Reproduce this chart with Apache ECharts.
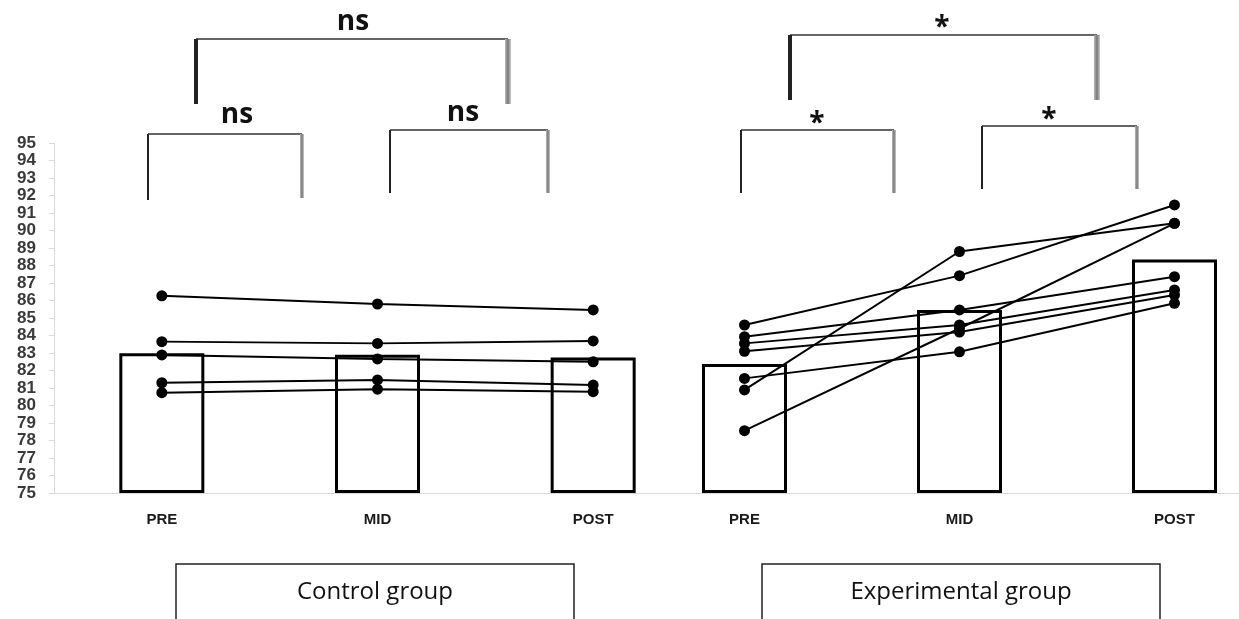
<!DOCTYPE html>
<html>
<head>
<meta charset="utf-8">
<script src="https://cdn.jsdelivr.net/npm/echarts@6/dist/echarts.min.js"></script>
<style>
  html, body { margin: 0; padding: 0; background: #fff; }
  #chart { width: 1239px; height: 619px; }
</style>
</head>
<body>
<div id="chart"></div>
<script>
// time points
var categories = ['PRE', 'MID', 'POST'];

// group means (bars)
var controlMeans = [82.98, 82.9, 82.75];
var experimentalMeans = [82.37, 85.46, 88.35];

// individual subjects, PRE / MID / POST
var controlScores = [
  [86.27, 85.8, 85.46],
  [83.65, 83.55, 83.69],
  [82.89, 82.66, 82.5],
  [81.3, 81.46, 81.17],
  [80.73, 80.93, 80.79]
];
var experimentalScores = [
  [80.89, 88.8, 90.41],
  [84.6, 87.42, 91.46],
  [78.56, 84.4, 90.41],
  [83.93, 85.46, 87.36],
  [83.55, 84.6, 86.6],
  [83.1, 84.2, 86.31],
  [81.55, 83.07, 85.84]
];

// y axis range
var yMin = 75, yMax = 95, yStep = 1;

var axisGray = '#d9d9d9';

function xAxisFor(idx) {
  return {
    gridIndex: idx,
    type: 'category',
    data: categories,
    axisLine: { lineStyle: { color: axisGray, width: 1 } },
    axisTick: { length: 5, lineStyle: { color: axisGray } },
    axisLabel: {
      margin: 19,
      color: '#1a1a1a',
      fontFamily: 'Liberation Sans',
      fontWeight: 'bold',
      fontSize: 15
    }
  };
}

function barSeries(idx, data) {
  return {
    type: 'bar',
    xAxisIndex: idx,
    yAxisIndex: idx,
    data: data,
    barWidth: 85,
    clip: false,
    silent: true,
    itemStyle: { color: '#fff', borderColor: '#000', borderWidth: 3 },
    z: 2
  };
}

function subjectSeries(idx, data) {
  return {
    type: 'line',
    xAxisIndex: idx,
    yAxisIndex: idx,
    data: data,
    symbol: 'circle',
    symbolSize: 11,
    clip: false,
    silent: true,
    lineStyle: { color: '#000', width: 2 },
    itemStyle: { color: '#000' },
    z: 5
  };
}

var series = [barSeries(0, controlMeans), barSeries(1, experimentalMeans)];
controlScores.forEach(function (s) { series.push(subjectSeries(0, s)); });
experimentalScores.forEach(function (s) { series.push(subjectSeries(1, s)); });

// significance brackets
function bracket(x1, x2, yTop, yL, yR, thick, label, labelX, labelY) {
  var els = [];
  els.push({ type: 'line', shape: { x1: x1, y1: yTop, x2: x2, y2: yTop },
    style: { stroke: '#333', lineWidth: 1.5 } });
  var w = thick ? 4 : 2;
  els.push({ type: 'rect', shape: { x: x1 - w / 2, y: yTop, width: w, height: yL - yTop },
    style: { fill: '#222' } });
  els.push({ type: 'rect', shape: { x: x2 - (w + 2) / 2, y: yTop, width: w + 2, height: yR - yTop },
    style: { fill: new echarts.graphic.LinearGradient(0, 0, 1, 0, [
      { offset: 0, color: '#bbb' }, { offset: 0.5, color: '#777' }, { offset: 1, color: '#ccc' }
    ]) } });
  els.push({ type: 'text', x: labelX, y: labelY,
    style: { text: label, fill: '#111', font: 'bold 28px "Open Sans"', align: 'center', verticalAlign: 'middle' } });
  return els;
}

var graphics = []
  .concat(bracket(196, 508, 39, 104, 104, true, 'ns', 353, 22))
  .concat(bracket(148, 302, 134, 200, 198, false, 'ns', 237, 115))
  .concat(bracket(390, 548, 130, 193, 193, false, 'ns', 463, 113))
  .concat(bracket(790, 1097, 35, 100, 100, true, '*', 942, 28))
  .concat(bracket(741, 894, 130, 193, 193, false, '*', 817, 124))
  .concat(bracket(982, 1137, 126, 189, 189, false, '*', 1049, 120));

// group label boxes
function groupBox(x, w, text) {
  return [
    { type: 'rect', shape: { x: x, y: 564, width: w, height: 70 },
      style: { fill: '#fff', stroke: '#222', lineWidth: 1.5 } },
    { type: 'text', x: x + w / 2, y: 592,
      style: { text: text, fill: '#111', font: '24px "Open Sans"', align: 'center', verticalAlign: 'middle' } }
  ];
}
graphics = graphics.concat(groupBox(176, 398, 'Control group'))
  .concat(groupBox(762, 398, 'Experimental group'));

var chart = echarts.init(document.getElementById('chart'));
chart.setOption({
  animation: false,
  backgroundColor: '#fff',
  grid: [
    { left: 54, top: 143, width: 647, height: 350, outerBoundsMode: 'none' },
    { left: 637, top: 143, width: 645, height: 350, outerBoundsMode: 'none' }
  ],
  xAxis: [xAxisFor(0), xAxisFor(1)],
  yAxis: [
    {
      gridIndex: 0,
      type: 'value',
      min: yMin, max: yMax, interval: yStep, startValue: yMin,
      axisLine: { show: true, lineStyle: { color: axisGray } },
      axisTick: { show: true, length: 5, lineStyle: { color: axisGray } },
      splitLine: { show: false },
      axisLabel: {
        interval: 0,
        margin: 18,
        color: '#3a3a3a',
        fontFamily: 'Liberation Sans',
        fontWeight: 'bold',
        fontSize: 17
      }
    },
    {
      gridIndex: 1,
      type: 'value',
      min: yMin, max: yMax, interval: yStep, startValue: yMin,
      show: false,
      splitLine: { show: false }
    }
  ],
  series: series,
  graphic: graphics
});
</script>
</body>
</html>
